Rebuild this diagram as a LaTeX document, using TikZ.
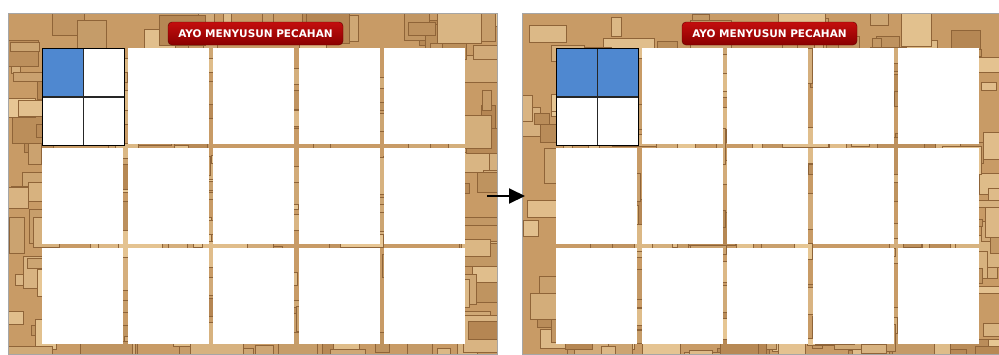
\documentclass[tikz,border=0pt]{standalone}
\usepackage{fontspec}
\newfontfamily\titlefont{DejaVu Sans}
\usepackage{tikz}
\usetikzlibrary{positioning, arrows.meta, calc}

\definecolor{woodlight}{RGB}{232,200,150}
\definecolor{wooddark}{RGB}{168,118,66}
\definecolor{woodbase}{RGB}{200,155,102}
\definecolor{pieceblue}{RGB}{79,136,208}
\definecolor{titletop}{RGB}{196,14,14}
\definecolor{titlebottom}{RGB}{138,0,0}

\tikzset{
  panelbox/.style={fill=woodbase, inner sep=0, minimum height=341, anchor=north west},
  cellbox/.style={fill=white, inner sep=0, minimum width=81, minimum height=96, anchor=north west},
  quarter/.style={draw=black!85, line width=0.8, inner sep=0, minimum width=40.5, minimum height=48, anchor=north west},
  titlebox/.style={rounded corners=4, top color=titletop, bottom color=titlebottom, draw=titlebottom!70!black,
    text=white, font=\titlefont\bfseries\fontsize{10.5}{12}\selectfont, minimum width=175, minimum height=23, inner sep=0},
}

\begin{document}
\begin{tikzpicture}[x=1pt, y=-1pt]
        \useasboundingbox (0,0) rectangle (999,354);
        \fill[white] (0,0) rectangle (999,354);
        \pgfmathsetseed{11}

        % The two boards
        \foreach \px/\p/\qtwo/\pw in {0/L/white/489, 514/R/pieceblue/477}{
          \begin{scope}[xshift=\px]
            \node[panelbox, minimum width=\pw] (\p-panel) at (8,13) {};
            % wooden blocks
            \begin{scope}
              \clip (\p-panel.north west) rectangle (\p-panel.south east);
              \foreach \i in {1,...,260}{
                \pgfmathsetmacro{\bx}{rnd*\pw}
                \pgfmathsetmacro{\by}{5+rnd*350}
                \pgfmathsetmacro{\bw}{8+rnd*45}
                \pgfmathsetmacro{\bh}{7+rnd*30}
                \pgfmathtruncatemacro{\s}{20+rnd*80}
                \filldraw[fill=woodlight!\s!wooddark, draw=wooddark!85!black, line width=0.4]
                  (\bx,\by) rectangle ++(\bw,\bh);
              }
            \end{scope}
            \draw[gray!70, line width=1] (\p-panel.north west) rectangle (\p-panel.south east);

            % The empty cells
            \foreach \r in {1,2,3}{
              \foreach \c in {1,...,5}{
                \node[cellbox] (\p-\r-\c) at ({42+(\c-1)*85.5},{48+(\r-1)*100}) {};
              }
            }

            % The first cell cut in quarters
            \node[quarter, fill=pieceblue] (\p-q1) at (\p-1-1.north west) {};
            \node[quarter, fill=\qtwo, right=0 of \p-q1] (\p-q2) {};
            \node[quarter, fill=white, below=0 of \p-q1] (\p-q3) {};
            \node[quarter, fill=white, right=0 of \p-q3] (\p-q4) {};
            \draw[black, line width=1] (\p-q1.north west) rectangle (\p-q4.south east);

            % Title
            \node[titlebox] (\p-title) at (255.5,33.5) {AYO MENYUSUN PECAHAN};
          \end{scope}
        }

        % The arrow
        \coordinate (arrowstart) at (487,196);
        \coordinate (arrowend) at (525,196);
        \draw[line width=2, -{Triangle[length=16, width=15]}] (arrowstart) -- (arrowend);
\end{tikzpicture}
\end{document}
